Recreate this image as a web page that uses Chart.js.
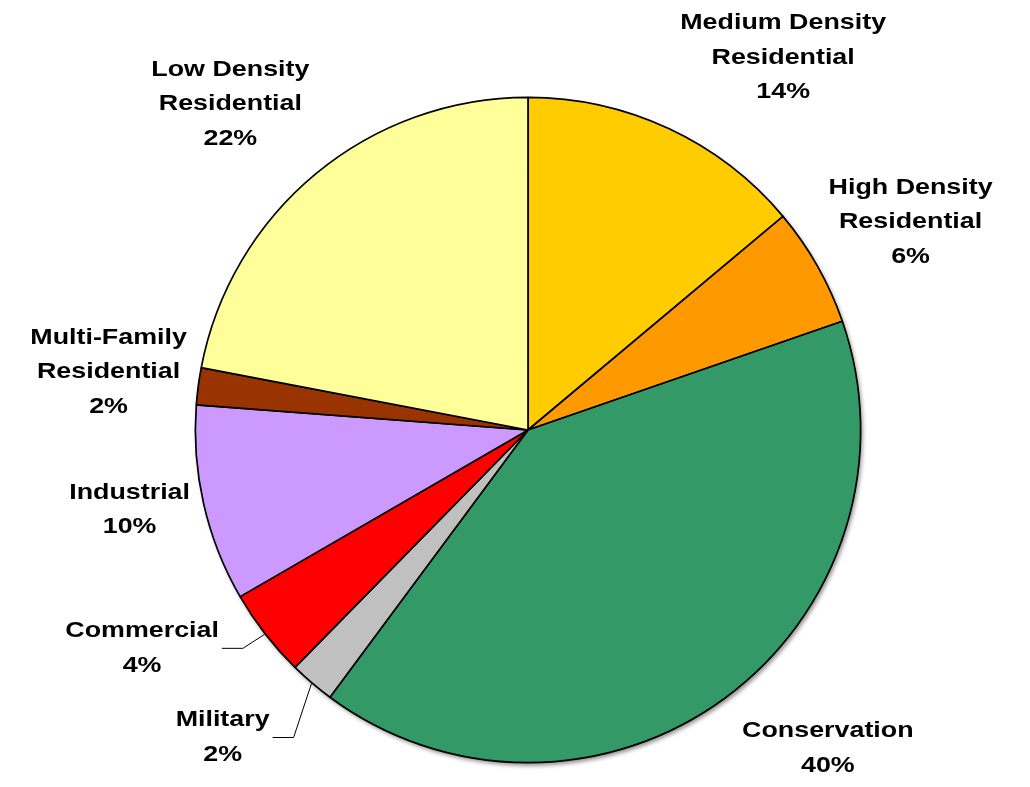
<!DOCTYPE html>
<html lang="en">
<head>
    <meta charset="UTF-8">
    <title>Land Use</title>
    <style>
        body {
            margin: 0;
            padding: 0;
            background-color: #fff;
        }
        .chart-container {
            width: 1030px;
            height: 787px;
        }
    </style>
</head>
<body>
    <div class="chart-container">
        <canvas id="myChart" width="1030" height="787"></canvas>
    </div>

    <script src="https://cdn.jsdelivr.net/npm/chart.js"></script>
    <script>
        // data, clockwise from 12 o'clock
        var categories = [
            ['Medium Density', 'Residential'],
            ['High Density', 'Residential'],
            ['Conservation'],
            ['Military'],
            ['Commercial'],
            ['Industrial'],
            ['Multi-Family', 'Residential'],
            ['Low Density', 'Residential']
        ];
        var values = [13.9, 5.8, 40.45, 2.2, 4.3, 9.55, 1.8, 22.0];
        var colors = ['#FFCC00', '#FF9900', '#339966', '#C0C0C0', '#FF0000', '#CC99FF', '#993300', '#FFFF99'];

        // label placement: angle shift (deg) from slice middle, distance beyond the pie edge (px)
        var labelShift = [9.4, 1.0, -7.0, 4.3, 8.3, 1.5, 0.3, -2.8];
        var labelGap = [118, 102, 104, 100, 110, 73, 90, 108];
        var hasLeader = [false, false, false, true, true, false, false, false];

        var FONT = 'bold 22px "Liberation Sans", Arial, sans-serif';
        var STRETCH = 1.22;
        var LINE_H = 34.5;

        // soft shadow under the pie
        var pieShadow = {
            id: 'pieShadow',
            beforeDatasetsDraw: function(chart) {
                var arc = chart.getDatasetMeta(0).data[0];
                if (!arc) return;
                var ctx = chart.ctx;
                ctx.save();
                ctx.shadowColor = 'rgba(0,0,0,0.45)';
                ctx.shadowBlur = 4;
                ctx.shadowOffsetX = 2;
                ctx.shadowOffsetY = 3;
                ctx.beginPath();
                ctx.arc(arc.x, arc.y, arc.outerRadius, 0, Math.PI * 2);
                ctx.fillStyle = '#fff';
                ctx.fill();
                ctx.restore();
            }
        };

        // outside labels with name + percent
        var outsideLabels = {
            id: 'outsideLabels',
            afterDatasetsDraw: function(chart) {
                var ctx = chart.ctx;
                var meta = chart.getDatasetMeta(0);
                var total = values.reduce(function(a, b) { return a + b; }, 0);
                ctx.save();
                ctx.font = FONT;
                ctx.fillStyle = '#000';
                ctx.textAlign = 'center';
                ctx.textBaseline = 'middle';
                meta.data.forEach(function(arc, i) {
                    var edge = arc.outerRadius + 0.75;
                    var mid = (arc.startAngle + arc.endAngle) / 2;
                    var a = mid + labelShift[i] * Math.PI / 180;
                    var cx = arc.x + Math.cos(a) * (edge + labelGap[i]);
                    var cy = arc.y + Math.sin(a) * (edge + labelGap[i]);
                    var lines = categories[i].concat([Math.round(values[i] / total * 100) + '%']);
                    var maxW = 0;
                    lines.forEach(function(line, k) {
                        var y = cy + (k - (lines.length - 1) / 2) * LINE_H;
                        maxW = Math.max(maxW, ctx.measureText(line).width * STRETCH);
                        ctx.save();
                        ctx.translate(cx, y);
                        ctx.scale(STRETCH, 1);
                        ctx.fillText(line, 0, 0);
                        ctx.restore();
                    });
                    if (hasLeader[i]) {
                        var x0 = cx + maxW / 2 + 3;
                        ctx.beginPath();
                        ctx.moveTo(x0, cy);
                        ctx.lineTo(x0 + 21, cy);
                        ctx.lineTo(arc.x + Math.cos(mid) * edge, arc.y + Math.sin(mid) * edge);
                        ctx.strokeStyle = '#000';
                        ctx.lineWidth = 1;
                        ctx.stroke();
                    }
                });
                ctx.restore();
            }
        };

        var ctx = document.getElementById('myChart').getContext('2d');
        new Chart(ctx, {
            type: 'pie',
            data: {
                labels: categories,
                datasets: [{
                    data: values,
                    backgroundColor: colors,
                    borderColor: '#000',
                    borderWidth: 1.7
                }]
            },
            options: {
                responsive: false,
                animation: false,
                events: [],
                layout: {
                    padding: { left: 194.5, right: 168.5, top: 96.5, bottom: 23.5 }
                },
                plugins: {
                    legend: { display: false },
                    tooltip: { enabled: false }
                }
            },
            plugins: [pieShadow, outsideLabels]
        });
    </script>
</body>
</html>
